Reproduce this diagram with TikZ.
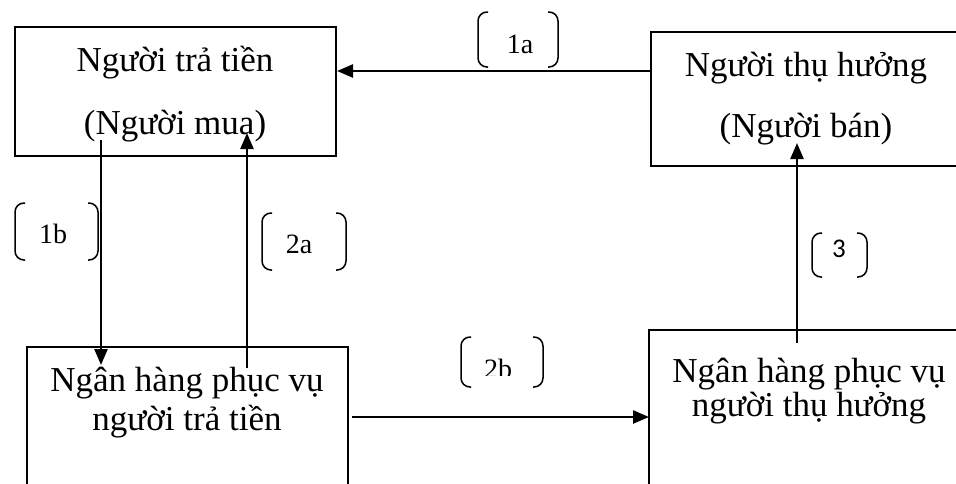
\documentclass[tikz,border=0pt]{standalone}
\usepackage{fontspec}
\setmainfont{Liberation Serif}
\newfontfamily\carl{Carlito}
\usetikzlibrary{arrows.meta}
\newcommand\bpair[4]{%
  \draw[brk] (#1,#2) ++(10,0) -- ++(-10,0) -- (#1,#4) -- ++(10,0);
  \draw[brk] (#3,#2) ++(-10,0) -- ++(10,0) -- (#3,#4) -- ++(-10,0);}
\begin{document}
\begin{tikzpicture}[x=1pt,y=-1pt,
  box/.style={draw,line width=1.6pt,rectangle,inner sep=0pt},
  txt/.style={anchor=base,inner sep=0pt,font=\fontsize{35}{40}\selectfont},
  lab/.style={anchor=base,inner sep=0pt,font=\fontsize{28}{32}\selectfont},
  brk/.style={line width=1.5pt,rounded corners=9pt},
  arr/.style={line width=2.4pt,-{Triangle[length=16pt,width=13pt]}}]
\useasboundingbox (0,0) rectangle (956,483);
\clip (0,0) rectangle (956,483);
% boxes
\node[box,minimum width=321pt,minimum height=129pt] (b1) at (175.5,91.5) {};
\node[box,minimum width=314pt,minimum height=134pt] (b2) at (808,99) {};
\node[box,minimum width=321pt,minimum height=153pt] (b3) at (187.5,423.5) {};
\node[box,minimum width=316pt,minimum height=170pt] (b4) at (807,415) {};
% texts
\node[txt] (t1a) at (175,71) {Người trả tiền};
\node[txt] (t1b) at (175,134) {(Người mua)};
\node[txt] (t2a) at (806,76) {Người thụ hưởng};
\node[txt] (t2b) at (806,137) {(Người bán)};
\node[txt] (t3a) at (187,391) {Ngân hàng phục vụ};
\node[txt] (t3b) at (187,430) {người trả tiền};
\node[txt] (t4a) at (809,382) {Ngân hàng phục vụ};
\node[txt] (t4b) at (809,416) {người thụ hưởng};
% connector end points
\coordinate (s1a) at (651,71);  \coordinate (e1a) at (337,71);
\coordinate (s1b) at (101,140); \coordinate (e1b) at (101,365);
\coordinate (s2a) at (247,368); \coordinate (e2a) at (247,133);
\coordinate (s2b) at (352,417); \coordinate (e2b) at (649,417);
\coordinate (s3) at (797,343);  \coordinate (e3) at (797,143);
\draw[arr] (s1a) -- (e1a);
\draw[arr] (s1b) -- (e1b);
\draw[arr] (s2a) -- (e2a);
\draw[arr] (s2b) -- (e2b);
\draw[arr] (s3) -- (e3);
% labels
\bpair{478}{12}{558}{67}
\node[lab] (l1a) at (520,53) {1a};
\bpair{15}{203}{98}{260}
\node[lab] (l1b) at (53,243) {1b};
\bpair{262}{213}{346}{270}
\node[lab] (l2a) at (299,253) {2a};
\bpair{461}{337}{543}{387}
\begin{scope}
\clip (440,330) rectangle (560,375.5);
\node[lab] (l2b) at (498,378) {2b};
\end{scope}
\bpair{812}{233}{867}{277}
\node[lab,font=\carl\fontsize{27}{30}\selectfont] (l3) at (839,257) {3};
\end{tikzpicture}
\end{document}
